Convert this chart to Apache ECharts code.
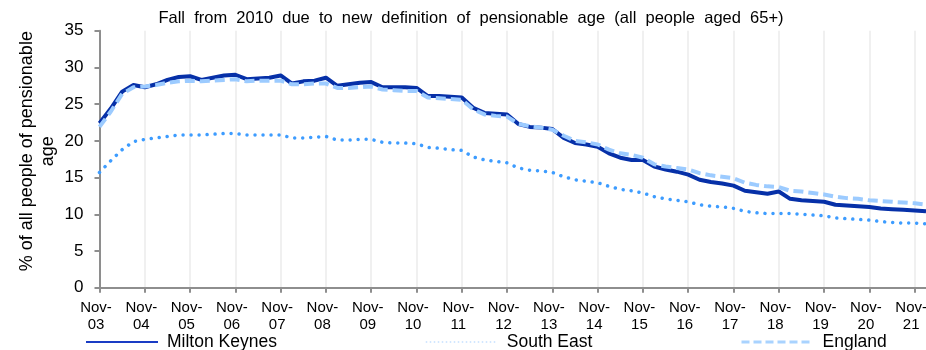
<!DOCTYPE html>
<html>
<head>
<meta charset="utf-8">
<script src="https://cdn.jsdelivr.net/npm/echarts@6/dist/echarts.min.js"></script>
<style>
  html, body { margin: 0; padding: 0; background: #fff; overflow: hidden; width: 926px; height: 350px; }
  #chart { width: 926px; height: 350px; }
</style>
</head>
<body>
<div id="chart"></div>
<script>
// Quarterly points, Nov-03 to Feb-22
const quarters = [
  'Nov-03','Feb-04','May-04','Aug-04','Nov-04','Feb-05','May-05','Aug-05',
  'Nov-05','Feb-06','May-06','Aug-06','Nov-06','Feb-07','May-07','Aug-07',
  'Nov-07','Feb-08','May-08','Aug-08','Nov-08','Feb-09','May-09','Aug-09',
  'Nov-09','Feb-10','May-10','Aug-10','Nov-10','Feb-11','May-11','Aug-11',
  'Nov-11','Feb-12','May-12','Aug-12','Nov-12','Feb-13','May-13','Aug-13',
  'Nov-13','Feb-14','May-14','Aug-14','Nov-14','Feb-15','May-15','Aug-15',
  'Nov-15','Feb-16','May-16','Aug-16','Nov-16','Feb-17','May-17','Aug-17',
  'Nov-17','Feb-18','May-18','Aug-18','Nov-18','Feb-19','May-19','Aug-19',
  'Nov-19','Feb-20','May-20','Aug-20','Nov-20','Feb-21','May-21','Aug-21',
  'Nov-21','Feb-22'
];

// % of all people of pensionable age
const miltonKeynes = [
  22.4, 24.4, 26.7, 27.6, 27.3, 27.7, 28.3, 28.7,
  28.8, 28.3, 28.6, 28.9, 29.0, 28.4, 28.5, 28.6,
  28.9, 27.8, 28.1, 28.2, 28.6, 27.5, 27.7, 27.9,
  28.0, 27.3, 27.3, 27.3, 27.2, 26.1, 26.1, 26.0,
  25.9, 24.5, 23.8, 23.7, 23.6, 22.3, 21.9, 21.8,
  21.6, 20.4, 19.7, 19.5, 19.2, 18.3, 17.7, 17.4,
  17.4, 16.5, 16.1, 15.8, 15.4, 14.7, 14.4, 14.2,
  13.9, 13.2, 13.0, 12.8, 13.1, 12.1, 11.9, 11.8,
  11.7, 11.3, 11.2, 11.1, 11.0, 10.8, 10.7, 10.6,
  10.5, 10.4
];
const southEast = [
  15.7, 17.3, 18.8, 19.9, 20.2, 20.4, 20.6, 20.8,
  20.8, 20.8, 20.9, 21.0, 21.0, 20.8, 20.8, 20.8,
  20.8, 20.4, 20.4, 20.5, 20.6, 20.1, 20.1, 20.2,
  20.2, 19.8, 19.7, 19.7, 19.6, 19.1, 19.0, 18.8,
  18.7, 17.8, 17.4, 17.2, 17.0, 16.3, 16.0, 15.9,
  15.7, 15.1, 14.7, 14.5, 14.3, 13.8, 13.4, 13.2,
  12.9, 12.4, 12.1, 11.9, 11.7, 11.3, 11.1, 11.0,
  10.8, 10.4, 10.2, 10.1, 10.1, 10.1, 10.0, 9.9,
  9.8, 9.5, 9.4, 9.3, 9.2, 9.0, 8.9, 8.8,
  8.8, 8.7
];
const england = [
  21.9, 24.0, 26.4, 27.3, 27.4, 27.6, 27.9, 28.1,
  28.2, 28.1, 28.2, 28.3, 28.4, 28.1, 28.2, 28.2,
  28.2, 27.7, 27.7, 27.8, 27.8, 27.2, 27.2, 27.3,
  27.4, 27.0, 26.9, 26.8, 26.8, 25.9, 25.8, 25.7,
  25.6, 24.3, 23.6, 23.4, 23.3, 22.3, 22.0, 21.8,
  21.5, 20.7, 20.0, 19.8, 19.5, 18.8, 18.3, 18.1,
  17.7, 16.8, 16.5, 16.3, 16.1, 15.6, 15.3, 15.1,
  14.9, 14.3, 14.0, 13.8, 13.7, 13.2, 13.1, 12.9,
  12.7, 12.4, 12.2, 12.1, 11.9, 11.8, 11.7, 11.6,
  11.5, 11.3
];

const yTicks = [0, 5, 10, 15, 20, 25, 30, 35];

const titleText = 'Fall from 2010 due to new definition of pensionable age (all people aged 65+)';
const yAxisTitle = '% of all people of pensionable\nage';

const FONT = '"Liberation Sans", Arial, sans-serif';
const AXIS_GREY = '#8e8e8e';

const chart = echarts.init(document.getElementById('chart'), null, { renderer: 'canvas', width: 926, height: 350 });

const legendBase = {
  top: 333,
  padding: 0,
  itemWidth: 72,
  itemHeight: 14,
  textStyle: { fontFamily: FONT, fontSize: 17.5, color: '#000', padding: [0, 0, 0, 4] },
  itemStyle: { opacity: 0 },
  selectedMode: false
};

chart.setOption({
  animation: false,
  backgroundColor: '#fff',
  title: {
    text: titleText.split(' ').join('  '),
    left: 466,
    textAlign: 'center',
    top: 5,
    textStyle: { fontFamily: FONT, fontSize: 16.5, fontWeight: 'normal', color: '#000' }
  },
  legend: [
    Object.assign({}, legendBase, {
      data: ['Milton Keynes'], left: 85,
      lineStyle: { width: 2, color: '#1a3cc4', type: 'solid' }
    }),
    Object.assign({}, legendBase, {
      data: ['South East'], left: 425,
      lineStyle: { width: 1.5, color: '#c4e0ff', type: [1.5, 2.5], cap: 'butt' }
    }),
    Object.assign({}, legendBase, {
      data: ['England'], left: 740,
      lineStyle: { width: 3, color: '#a9d3ff', type: [8, 4], cap: 'butt' }
    })
  ],
  grid: {
    left: 99.5, right: 0, top: 30.7, bottom: 62.3,
    containLabel: false,
    outerBoundsMode: 'none'
  },
  xAxis: {
    type: 'category',
    data: quarters,
    boundaryGap: false,
    axisLine: { lineStyle: { color: AXIS_GREY, width: 2 } },
    axisTick: { interval: 3, length: 5, lineStyle: { color: AXIS_GREY, width: 2 } },
    axisLabel: {
      interval: 3,
      margin: 12,
      fontFamily: FONT,
      fontSize: 15,
      lineHeight: 17,
      color: '#000',
      padding: [0, 7, 0, 0],
      formatter: v => v.replace('-', '-\n')
    },
    splitLine: { show: true, interval: 3, lineStyle: { color: '#ebebeb', width: 1.5 } }
  },
  yAxis: {
    type: 'value',
    min: yTicks[0],
    max: yTicks[yTicks.length - 1],
    interval: 5,
    name: yAxisTitle,
    nameLocation: 'middle',
    nameRotate: 90,
    nameGap: 41,
    nameMoveOverlap: false,
    nameTextStyle: { fontFamily: FONT, fontSize: 18, lineHeight: 21, color: '#000', align: 'center', padding: [0, 0, 0, 16] },
    axisLine: { show: true, lineStyle: { color: AXIS_GREY, width: 2 } },
    axisTick: { show: true, length: 5, lineStyle: { color: AXIS_GREY, width: 2 } },
    axisLabel: { margin: 16, fontFamily: FONT, fontSize: 17, color: '#000' },
    splitLine: { show: false }
  },
  series: [
    {
      name: 'Milton Keynes',
      type: 'line',
      data: miltonKeynes,
      symbol: 'none',
      lineStyle: { color: '#0630a8', width: 4, join: 'round' },
      itemStyle: { color: '#0630a8' },
      z: 2
    },
    {
      name: 'South East',
      type: 'line',
      data: southEast,
      symbol: 'none',
      lineStyle: { color: '#3d9cff', width: 3.5, type: [0.01, 8], cap: 'round' },
      itemStyle: { color: '#3d9cff' },
      z: 3
    },
    {
      name: 'England',
      type: 'line',
      data: england,
      symbol: 'none',
      lineStyle: { color: '#9ccbff', width: 4, type: [10, 5], cap: 'butt' },
      itemStyle: { color: '#9ccbff' },
      z: 4
    }
  ]
});
</script>
</body>
</html>
